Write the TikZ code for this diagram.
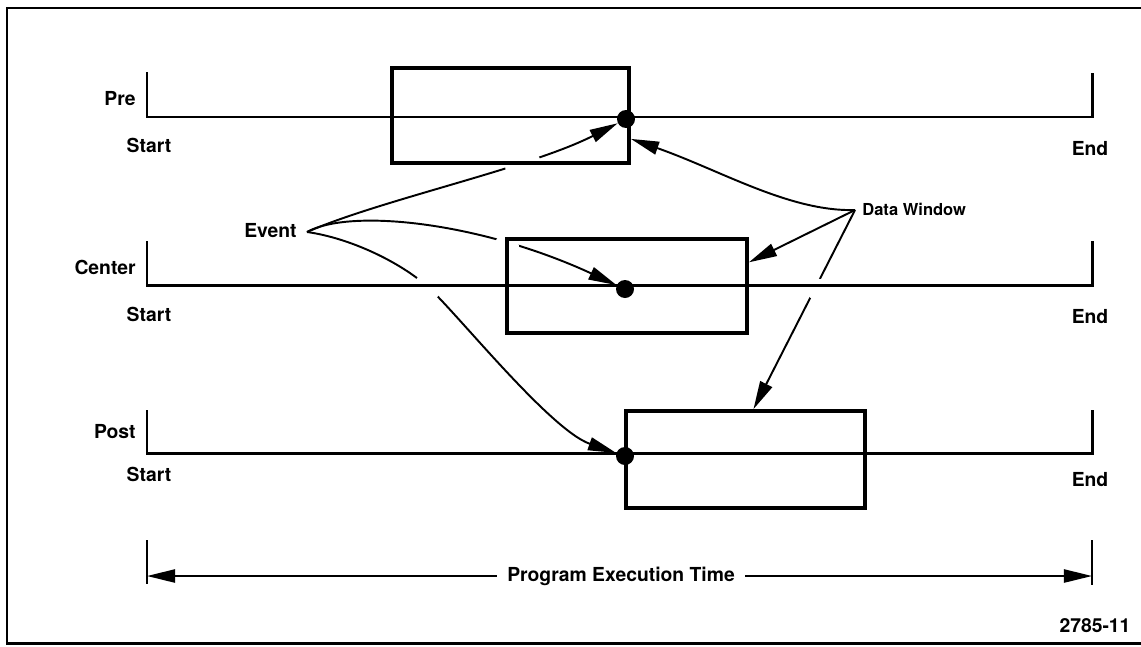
\documentclass[tikz,border=0pt]{standalone}
\usepackage{fontspec}
\setmainfont{TeX Gyre Heros}
\usetikzlibrary{arrows.meta}
\pgfdeclarelayer{under}
\pgfsetlayers{under,main}
\begin{document}
\begin{tikzpicture}[x=0.02cm, y=-0.02cm,
  frameline/.style={line width=1.7pt},
  tline/.style={line width=1.7pt, line join=miter},
  winbox/.style={draw, line width=2.2pt, inner sep=0pt},
  evdot/.style={circle, fill=black, inner sep=0pt, minimum size=0.36cm},
  lbl/.style={font=\bfseries\fontsize{11}{13}\selectfont, inner sep=0pt},
  smalllbl/.style={font=\bfseries\fontsize{9.4}{11}\selectfont, inner sep=0pt},
  conn/.style={line width=1.1pt, -{Triangle[length=16pt,width=7.5pt]}},
  dimline/.style={line width=1.1pt, -{Triangle[length=16pt,width=7.5pt]}},
  dimtick/.style={line width=1.5pt},
  eraser/.style={fill=white},
]
\useasboundingbox (0,0) rectangle (1141,646);

% outer frame
\draw[frameline] (1141,8) -- (7,8) -- (7,643) -- (1141,643);

% three time lines
\draw[tline] (147,72) -- (147,117) -- (1092,117) -- (1092,73);
\draw[tline] (147,241) -- (147,285) -- (1092,285) -- (1092,241);
\draw[tline] (147,410) -- (147,453) -- (1092,453) -- (1092,410);

% row labels
\node[lbl, anchor=mid east] (lpre) at (136,101) {Pre};
\node[lbl, anchor=mid east] (lcen) at (136,270) {Center};
\node[lbl, anchor=mid east] (lpost) at (136,434) {Post};
\node[lbl, anchor=mid] (spre) at (149,148) {Start};
\node[lbl, anchor=mid] (scen) at (149,317) {Start};
\node[lbl, anchor=mid] (spost) at (149,477) {Start};
\node[lbl, anchor=mid] (epre) at (1090,151) {End};
\node[lbl, anchor=mid] (ecen) at (1090,319) {End};
\node[lbl, anchor=mid] (epost) at (1090,482) {End};

% data windows
\node[winbox, minimum width=4.74cm, minimum height=1.9cm] (boxpre) at (510.5,115.5) {};
\node[winbox, minimum width=4.8cm, minimum height=1.88cm] (boxcen) at (627,286) {};
\node[winbox, minimum width=4.78cm, minimum height=1.94cm] (boxpost) at (745.5,459.5) {};

% event marks
\node[evdot] (dotpre) at (626,119) {};
\node[evdot] (dotcen) at (625,289) {};
\node[evdot] (dotpost) at (625,456) {};

% callouts
\node[lbl, anchor=mid east] (evtext) at (297,233) {Event};
\coordinate (ev) at (307,232);
\node[smalllbl, anchor=mid west] (dwtext) at (862,211) {Data Window};
\coordinate (dw) at (855,210);

\begin{pgfonlayer}{under}
  \draw[conn] (ev) .. controls (380,200) and (530,168) .. (dotpre);
  \draw[conn] (ev) .. controls (350,208) and (480,222) .. (dotcen);
  \draw[conn] (ev) .. controls (350,238) and (400,262) .. (428,287)
                   .. controls (456,312) and (550,430) .. (dotpost);
  \draw[conn] (dw) .. controls (790,212) and (720,170) .. (boxpre.-11);
  \draw[conn] (dw) -- (boxcen.11);
  \draw[conn] (dw) -- (boxpost.81);
  % breaks where the callouts cross other lines
  \fill[eraser] (523,165) circle[radius=0.36cm];
  \fill[eraser] (506.5,246.5) circle[radius=0.25cm];
  \fill[eraser] (428,286.5) circle[radius=0.28cm];
  \fill[eraser] (817.5,289.5) circle[radius=0.22cm];
\end{pgfonlayer}

% program execution time
\draw[dimtick] (147,540) -- (147,584);
\draw[dimtick] (1092,540) -- (1092,585);
\coordinate (tleft) at (147,576);
\coordinate (tright) at (1092,576);
\node[lbl, anchor=mid, inner xsep=0.2cm] (pet) at (621,577) {Program Execution Time};
\draw[dimline] (pet.west |- tleft) -- (tleft);
\draw[dimline] (pet.east |- tright) -- (tright);

\node[lbl, anchor=mid] (fignum) at (1095,628) {2785-11};
\end{tikzpicture}
\end{document}
